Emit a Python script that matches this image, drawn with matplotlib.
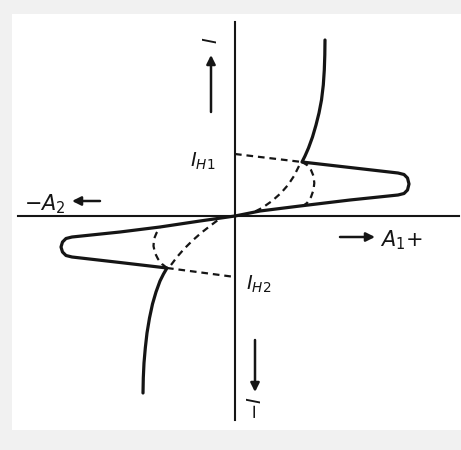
import matplotlib
matplotlib.use("Agg")
import matplotlib.pyplot as plt
from matplotlib.patches import Rectangle

plt.rcParams["mathtext.fontset"] = "dejavusans"

# Upper branch: steep tail, loop to the right, back to the origin
upper_x = [9.0, 8.98, 8.93, 8.83, 8.65, 8.4, 8.1, 7.75, 7.35, 7.0, 6.7,
           11.5, 16.3, 16.9, 17.25, 17.4, 17.25, 16.9, 16.3,
           11.5, 6.5, 2.5, 0.0]
upper_y = [17.6, 16.1, 14.6, 13.1, 11.6, 10.3, 9.1, 7.9, 6.8, 6.0, 5.4,
           4.85, 4.3, 4.15, 3.8, 3.2, 2.6, 2.25, 2.1,
           1.6, 1.0, 0.5, 0.0]

# Lower branch: steep tail, loop to the left, back to the origin
lower_x = [-9.2, -9.17, -9.1, -8.97, -8.8, -8.55, -8.25, -7.9, -7.5, -7.15, -6.8,
           -11.5, -16.3, -16.9, -17.25, -17.4, -17.25, -16.9, -16.3,
           -11.5, -7.5, -3.5, 0.0]
lower_y = [-17.7, -16.2, -14.7, -13.2, -11.7, -10.2, -8.8, -7.6, -6.5, -5.8, -5.2,
           -4.65, -4.1, -3.95, -3.6, -3.1, -2.6, -2.25, -2.1,
           -1.6, -1.1, -0.5, 0.0]

# Holding-current levels and dashed transitions
ih1_x = [0.0, 6.7]
ih1_y = [6.2, 5.4]
ih2_x = [-6.8, 0.0]
ih2_y = [-5.2, -6.1]

arc1_outer_x = [6.7, 7.2, 7.6, 7.85, 7.93, 7.85, 7.6, 7.2, 6.8]
arc1_outer_y = [5.4, 5.1, 4.6, 4.0, 3.3, 2.6, 1.9, 1.3, 1.0]
arc1_inner_x = [6.4, 5.9, 5.3, 4.6, 3.7, 2.7, 1.7]
arc1_inner_y = [5.0, 4.0, 3.1, 2.3, 1.5, 0.8, 0.3]

arc2_outer_x = [-6.8, -7.3, -7.7, -8.0, -8.15, -8.1, -7.85, -7.5]
arc2_outer_y = [-5.2, -4.8, -4.3, -3.7, -3.0, -2.3, -1.7, -1.2]
arc2_inner_x = [-6.4, -5.8, -5.1, -4.3, -3.4, -2.5, -1.7]
arc2_inner_y = [-4.9, -4.1, -3.3, -2.5, -1.7, -1.0, -0.4]

labels_ih = [r"$I_{H1}$", r"$I_{H2}$"]
label_a1 = r"$A_1{+}$"
label_a2 = r"$-A_2$"
label_i_up = r"$I$"
label_i_down = r"$-I$"

fig = plt.figure(figsize=(4.61, 4.50), dpi=100, facecolor="#f1f1f1")
ax = fig.add_axes([0, 0, 1, 1])
ax.set_xlim(-23.5, 22.6)
ax.set_ylim(-23.4, 21.6)
ax.axis("off")

# white drawing sheet
ax.add_patch(Rectangle((12 / 461, 20 / 450), 449 / 461, 416 / 450,
                       transform=ax.transAxes, facecolor="white",
                       edgecolor="none", zorder=0))

ink = "#151515"
# coordinate axes
ax.plot([0, 0], [19.4, -20.4], color=ink, lw=1.5, zorder=2)
ax.plot([-21.7, 22.4], [0, 0], color=ink, lw=1.5, zorder=2)

# characteristic
for xs, ys in [(upper_x, upper_y), (lower_x, lower_y)]:
    ax.plot(xs, ys, color=ink, lw=2.3, solid_joinstyle="round",
            solid_capstyle="round", zorder=3)

dash = dict(color=ink, lw=1.6, linestyle=(0, (3.0, 2.2)), zorder=3)
for xs, ys in [(ih1_x, ih1_y), (ih2_x, ih2_y),
               (arc1_outer_x, arc1_outer_y), (arc1_inner_x, arc1_inner_y),
               (arc2_outer_x, arc2_outer_y), (arc2_inner_x, arc2_inner_y)]:
    ax.plot(xs, ys, **dash)

# labels
ax.text(-3.2, 5.5, labels_ih[0], fontsize=14, color=ink, ha="center", va="center")
ax.text(2.4, -6.8, labels_ih[1], fontsize=14, color=ink, ha="center", va="center")
ax.text(-19.0, 1.2, label_a2, fontsize=15, color=ink, ha="center", va="center")
ax.text(16.6, -2.4, label_a1, fontsize=15, color=ink, ha="center", va="center")
ax.text(-2.4, 17.6, label_i_up, fontsize=14, color=ink, ha="center",
        va="center", rotation=90)
ax.text(2.0, -19.2, label_i_down, fontsize=14, color=ink, ha="center",
        va="center", rotation=90)

arrow = dict(arrowstyle="-|>", color=ink, lw=1.8, mutation_scale=13,
             shrinkA=0, shrinkB=0)
ax.annotate("", xy=(-16.3, 1.5), xytext=(-13.5, 1.5), arrowprops=arrow)
ax.annotate("", xy=(14.0, -2.1), xytext=(10.5, -2.1), arrowprops=arrow)
ax.annotate("", xy=(-2.4, 16.1), xytext=(-2.4, 10.4), arrowprops=arrow)
ax.annotate("", xy=(2.0, -17.6), xytext=(2.0, -12.4), arrowprops=arrow)

fig.savefig("out.png", dpi=100, facecolor=fig.get_facecolor())
